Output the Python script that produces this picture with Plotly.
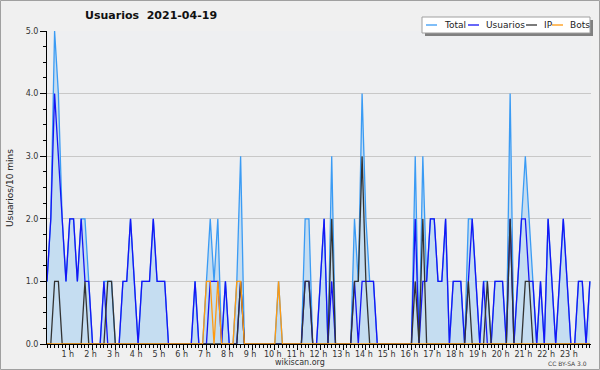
import plotly.graph_objects as go

# ---- data (10-minute bins, 144 per day) ----
bins = list(range(144))
hour_labels = [f"{h} h" for h in range(1, 24)]
y_ticks = [0, 1, 2, 3, 4, 5]

total = [1, 2, 5, 4, 2, 1, 2, 2, 1, 2, 2, 1, 0, 0, 0, 1, 1, 1, 0, 0, 1, 1, 2, 1,
         0, 1, 1, 1, 2, 1, 1, 1, 0, 0, 0, 0, 0, 0, 0, 1, 0, 0, 1, 2, 1, 2, 0, 1,
         0, 0, 1, 3, 0, 0, 0, 0, 0, 0, 0, 0, 0, 1, 0, 0, 0, 0, 0, 0, 2, 2, 0, 0,
         1, 2, 0, 3, 0, 0, 0, 0, 0, 2, 1, 4, 2, 1, 1, 0, 0, 0, 0, 0, 0, 0, 0, 0,
         0, 3, 0, 3, 1, 2, 2, 1, 1, 2, 0, 1, 1, 1, 0, 2, 2, 1, 0, 1, 1, 0, 1, 1,
         1, 0, 4, 0, 1, 2, 3, 2, 1, 0, 1, 0, 2, 1, 0, 1, 2, 1, 0, 0, 1, 1, 0, 1]
usuarios = [1, 2, 4, 3, 2, 1, 2, 2, 1, 2, 1, 1, 0, 0, 0, 1, 0, 0, 0, 0, 1, 1, 2, 1,
            0, 1, 1, 1, 2, 1, 1, 1, 0, 0, 0, 0, 0, 0, 0, 1, 0, 0, 0, 1, 1, 1, 0, 1,
            0, 0, 0, 1, 0, 0, 0, 0, 0, 0, 0, 0, 0, 0, 0, 0, 0, 0, 0, 0, 1, 1, 0, 0,
            1, 2, 0, 1, 0, 0, 0, 0, 0, 1, 0, 1, 1, 1, 1, 0, 0, 0, 0, 0, 0, 0, 0, 0,
            0, 2, 0, 1, 1, 2, 2, 1, 1, 2, 0, 1, 1, 1, 0, 1, 2, 1, 0, 1, 0, 0, 1, 1,
            1, 0, 2, 0, 1, 2, 2, 1, 1, 0, 1, 0, 2, 1, 0, 1, 2, 1, 0, 0, 1, 1, 0, 1]
ip = [0, 0, 1, 1, 0, 0, 0, 0, 0, 0, 1, 0, 0, 0, 0, 0, 1, 1, 0, 0, 0, 0, 0, 0,
      0, 0, 0, 0, 0, 0, 0, 0, 0, 0, 0, 0, 0, 0, 0, 0, 0, 0, 0, 0, 0, 0, 0, 0,
      0, 0, 0, 1, 0, 0, 0, 0, 0, 0, 0, 0, 0, 0, 0, 0, 0, 0, 0, 0, 1, 1, 0, 0,
      0, 0, 0, 2, 0, 0, 0, 0, 0, 1, 1, 3, 1, 0, 0, 0, 0, 0, 0, 0, 0, 0, 0, 0,
      0, 1, 0, 2, 0, 0, 0, 0, 0, 0, 0, 0, 0, 0, 0, 1, 0, 0, 0, 0, 1, 0, 0, 0,
      0, 0, 2, 0, 0, 0, 1, 1, 0, 0, 0, 0, 0, 0, 0, 0, 0, 0, 0, 0, 0, 0, 0, 0]
bots = [0, 0, 0, 0, 0, 0, 0, 0, 0, 0, 0, 0, 0, 0, 0, 0, 0, 0, 0, 0, 0, 0, 0, 0,
        0, 0, 0, 0, 0, 0, 0, 0, 0, 0, 0, 0, 0, 0, 0, 0, 0, 0, 1, 1, 0, 1, 0, 0,
        0, 0, 1, 1, 0, 0, 0, 0, 0, 0, 0, 0, 0, 1, 0, 0, 0, 0, 0, 0, 0, 0, 0, 0,
        0, 0, 0, 0, 0, 0, 0, 0, 0, 0, 0, 0, 0, 0, 0, 0, 0, 0, 0, 0, 0, 0, 0, 0,
        0, 0, 0, 0, 0, 0, 0, 0, 0, 0, 0, 0, 0, 0, 0, 0, 0, 0, 0, 0, 0, 0, 0, 0,
        0, 0, 0, 0, 0, 0, 0, 0, 0, 0, 0, 0, 0, 0, 0, 0, 0, 0, 0, 0, 0, 0, 0, 0]

# ---- geometry ----
W, H = 600, 370
L, R, T, B = 47, 9, 31, 26
PW, PH = W - L - R, H - T - B
FONT = "DejaVu Sans"


def px(x):
    return (x - L) / PW


def py(y):
    return (H - B - y) / PH


fig = go.Figure()
fig.add_trace(go.Scatter(x=bins, y=total, mode="lines", name="Total",
                         line=dict(color="#3a9bf4", width=1.3),
                         fill="tozeroy", fillcolor="#c5ddf1"))
fig.add_trace(go.Scatter(x=bins, y=usuarios, mode="lines", name="Usuarios",
                         line=dict(color="#1515f5", width=1.3)))
fig.add_trace(go.Scatter(x=bins, y=ip, mode="lines", name="IP",
                         line=dict(color="#333333", width=1.3)))
fig.add_trace(go.Scatter(x=bins, y=bots, mode="lines", name="Bots",
                         line=dict(color="#ff9a10", width=1.3)))

shapes = []
annotations = []

# outer frame
shapes.append(dict(type="rect", xref="paper", yref="paper",
                   x0=px(0.5), x1=px(W - 0.5), y0=py(H - 0.5), y1=py(0.5),
                   line=dict(color="#a0a0a0", width=1), layer="below"))

# legend box with shadow
lx0, lx1, ly0, ly1 = 422, 590, 17, 33
shapes.append(dict(type="rect", xref="paper", yref="paper",
                   x0=px(lx0 + 3), x1=px(lx1 + 3), y0=py(ly1 + 3), y1=py(ly0 + 3),
                   fillcolor="#808080", line=dict(width=0)))
shapes.append(dict(type="rect", xref="paper", yref="paper",
                   x0=px(lx0), x1=px(lx1), y0=py(ly1), y1=py(ly0),
                   fillcolor="white", line=dict(color="#a0a0a0", width=1)))
items = [("Total", "#3a9bf4", 426, 442), ("Usuarios", "#1515f5", 468, 484),
         ("IP", "#333333", 526, 542), ("Bots", "#ff9a10", 552, 568)]
for name, col, x0, tx in items:
    shapes.append(dict(type="line", xref="paper", yref="paper",
                       x0=px(x0), x1=px(x0 + 11), y0=py(25), y1=py(25),
                       line=dict(color=col, width=1.3)))
    annotations.append(dict(text=name, xref="paper", yref="paper", x=px(tx), y=py(25),
                            xanchor="left", yanchor="middle", showarrow=False,
                            font=dict(family=FONT, size=9, color="#222222")))

annotations.append(dict(text="<b>Usuarios  2021-04-19</b>", xref="paper", yref="paper",
                        x=px(151), y=py(16), xanchor="center", yanchor="middle",
                        showarrow=False, font=dict(family=FONT, size=11, color="#111111")))
annotations.append(dict(text="Usuarios/10 mins", xref="paper", yref="paper",
                        x=px(10), y=py(188), xanchor="center", yanchor="middle",
                        textangle=-90, showarrow=False,
                        font=dict(family=FONT, size=9, color="#222222")))
annotations.append(dict(text="wikiscan.org", xref="paper", yref="paper",
                        x=px(300), y=py(362), xanchor="center", yanchor="middle",
                        showarrow=False, font=dict(family=FONT, size=8, color="#333333")))
annotations.append(dict(text="CC BY-SA 3.0", xref="paper", yref="paper",
                        x=px(589), y=py(363), xanchor="right", yanchor="middle",
                        showarrow=False, font=dict(family=FONT, size=6, color="#444444")))

fig.update_layout(
    width=W, height=H,
    margin=dict(l=L, r=R, t=T, b=B, pad=0),
    paper_bgcolor="#f0f0f0", plot_bgcolor="#eeeff1",
    showlegend=False,
    shapes=shapes, annotations=annotations,
    font=dict(family=FONT, size=8, color="#333333"),
)
fig.update_xaxes(range=[0, 143.3], tickmode="array",
                 tickvals=[6 * h for h in range(1, 24)], ticktext=hour_labels,
                 ticks="outside", ticklen=5, tickcolor="black", tickwidth=1,
                 ticklabelshift=-2, ticklabelstandoff=-3,
                 showline=True, linecolor="black", linewidth=1,
                 showgrid=False, zeroline=False,
                 tickfont=dict(family=FONT, size=8, color="#333333"),
                 minor=dict(dtick=1, tick0=0, ticks="outside", ticklen=3,
                            tickcolor="black", showgrid=False))
fig.update_yaxes(range=[0, 5], tickmode="array", tickvals=y_ticks,
                 tickformat=".1f",
                 ticks="outside", ticklen=6, tickcolor="black", tickwidth=1,
                 showline=True, linecolor="black", linewidth=1,
                 showgrid=True, gridcolor="#c8c8c8", gridwidth=1, zeroline=False,
                 tickfont=dict(family=FONT, size=8, color="#333333"),
                 minor=dict(dtick=0.25, tick0=0, ticks="outside", ticklen=3,
                            tickcolor="black", showgrid=False))

fig.write_html("out.html", config={"displayModeBar": False})

# remove the default page margin so the 600x370 figure fills the window exactly
with open("out.html", "r", encoding="utf-8") as f:
    html = f.read()
html = html.replace("<head>", "<head><style>html,body{margin:0;padding:0;overflow:hidden;}</style>", 1)
with open("out.html", "w", encoding="utf-8") as f:
    f.write(html)
